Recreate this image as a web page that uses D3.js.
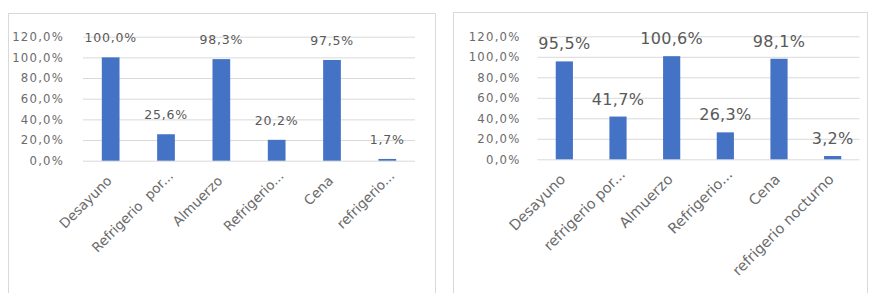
<!DOCTYPE html>
<html>
<head>
<meta charset="utf-8">
<script src="https://cdn.jsdelivr.net/npm/d3@7"></script>
<style>
  body { margin: 0; background: #fff; }
  svg { display: block; }
  svg text { font-family: "DejaVu Sans", sans-serif; }
  .tick line { stroke: #d9d9d9; }
  .xlab text { white-space: pre; }
</style>
</head>
<body>
<svg id="chart" width="869" height="293"></svg>
<script>
// left chart
var leftCats = ["Desayuno", "Refrigerio  por...", "Almuerzo", "Refrigerio...", "Cena", "refrigerio..."];
var leftValues = [100.0, 25.6, 98.3, 20.2, 97.5, 1.7];

// right chart
var rightCats = ["Desayuno", "refrigerio por...", "Almuerzo", "Refrigerio...", "Cena", "refrigerio nocturno"];
var rightValues = [95.5, 41.7, 100.6, 26.3, 98.1, 3.2];

var yTicks = [0, 20, 40, 60, 80, 100, 120];

var fmt = function (v) { return v.toFixed(1).replace(".", ",") + "%"; };

var svg = d3.select("#chart");

function drawChart(cats, values, opt) {
    var g = svg.append("g");

    // panel border
    g.append("rect")
        .attr("x", opt.panel[0] + 0.5).attr("y", opt.panel[1] + 0.5)
        .attr("width", opt.panel[2]).attr("height", 320)
        .attr("fill", "#fff").attr("stroke", "#d9d9d9");

    var x = d3.scaleBand().domain(cats)
        .range([opt.x0, opt.x1])
        .paddingInner(0.68).paddingOuter(0.34);
    var y = d3.scaleLinear().domain([0, 120]).range([opt.y0, opt.y1]);

    // y axis with gridlines
    var ya = g.append("g")
        .attr("transform", "translate(" + opt.x0 + ",0)")
        .call(d3.axisLeft(y).tickValues(yTicks).tickFormat(fmt)
            .tickSize(-(opt.x1 - opt.x0)).tickPadding(opt.tickPad));
    ya.select(".domain").remove();
    ya.selectAll("text")
        .attr("fill", "#6b6b6b")
        .style("font-size", opt.tickFont + "px")
        .style("letter-spacing", "1.2px");

    // bars
    g.selectAll(".bar")
        .data(values)
        .enter()
        .append("rect")
        .attr("class", "bar")
        .attr("x", function (d, i) { return x(cats[i]); })
        .attr("width", x.bandwidth())
        .attr("y", function (d) { return y(d); })
        .attr("height", function (d) { return y(0) - y(d); })
        .attr("fill", "#4472c4");

    // value labels
    g.selectAll(".val")
        .data(values)
        .enter()
        .append("text")
        .attr("class", "val")
        .attr("x", function (d, i) { return x(cats[i]) + x.bandwidth() / 2; })
        .attr("y", function (d) { return y(d) - opt.valGap; })
        .attr("text-anchor", "middle")
        .attr("fill", "#595959")
        .style("font-size", opt.valFont + "px")
        .style("letter-spacing", opt.valSpace + "px")
        .text(fmt);

    // category labels
    var xa = g.append("g")
        .attr("class", "xlab")
        .attr("transform", "translate(0," + opt.y0 + ")")
        .call(d3.axisBottom(x).tickSize(0));
    xa.select(".domain").remove();
    xa.selectAll("text")
        .attr("y", 0).attr("dy", 0)
        .attr("text-anchor", "end")
        .attr("fill", "#6b6b6b")
        .style("font-size", opt.catFont + "px")
        .attr("transform", function (d) {
            // truncated labels sit a little further up-right
            var cut = /\.\.\.$/.test(d);
            return "translate(" + (cut ? 8 : 2) + "," + (cut ? 16 : 21) + ") rotate(-45)";
        });
}

drawChart(leftCats, leftValues, {
    panel: [8, 13, 427],
    x0: 83, x1: 415, y0: 160.7, y1: 36.7,
    tickPad: 19, tickFont: 11.7, valFont: 12.5, valSpace: 0.8, valGap: 15, catFont: 13.5
});

drawChart(rightCats, rightValues, {
    panel: [453, 12, 414],
    x0: 537.5, x1: 859.5, y0: 159.3, y1: 36.3,
    tickPad: 17, tickFont: 11.7, valFont: 16, valSpace: 0.3, valGap: 12, catFont: 14.5
});
</script>
</body>
</html>
